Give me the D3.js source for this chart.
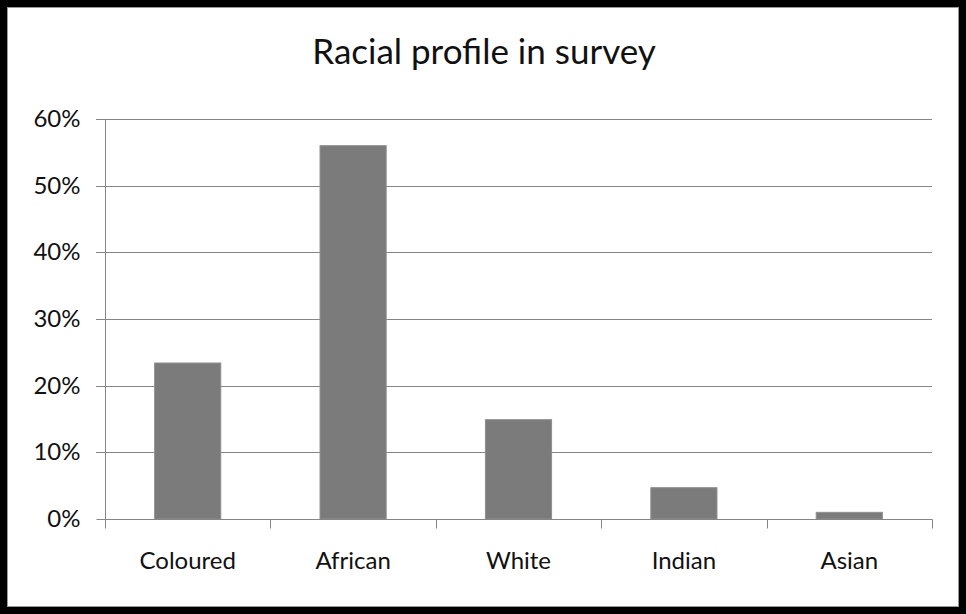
<!DOCTYPE html>
<html>
<head>
<meta charset="utf-8">
<script src="https://cdn.jsdelivr.net/npm/d3@7"></script>
<style>
  html, body { margin: 0; padding: 0; background: #000; }
  svg { display: block; }
  text { font-family: Lato, "Open Sans", sans-serif; fill: #111; }
</style>
</head>
<body>
<svg id="chart" width="966" height="614"></svg>
<script>
const categories = ["Coloured", "African", "White", "Indian", "Asian"];
const values = [0.234, 0.56, 0.149, 0.047, 0.010];
const yTicks = [0, 0.1, 0.2, 0.3, 0.4, 0.5, 0.6];
const title = "Racial profile in survey";

const W = 966, H = 614;
const svg = d3.select("#chart");

// outer frame
svg.append("rect").attr("x", 0).attr("y", 0).attr("width", W).attr("height", H).attr("fill", "#000");
svg.append("rect").attr("x", 7.5).attr("y", 7.5).attr("width", 951).attr("height", 599)
  .attr("fill", "#fff").attr("stroke", "#9a9a9a").attr("stroke-width", 1);

const plot = { left: 105, right: 932, top: 119, bottom: 519 };

const x = d3.scaleBand().domain(categories).range([plot.left, plot.right])
  .paddingInner(0.6).paddingOuter(0.3);
const xTickScale = d3.scaleLinear().domain([0, categories.length]).range([plot.left, plot.right]);
const y = d3.scaleLinear().domain([0, 0.6]).range([plot.bottom, plot.top]);

const gridColor = "#868686";

// gridlines
svg.append("g").selectAll("line").data(yTicks.filter(d => d > 0)).join("line")
  .attr("x1", plot.left - 9).attr("x2", plot.right)
  .attr("y1", d => Math.round(y(d)) + 0.5).attr("y2", d => Math.round(y(d)) + 0.5)
  .attr("stroke", gridColor).attr("stroke-width", 1);

// y axis
const yAxis = d3.axisLeft(y).tickValues(yTicks).tickFormat(d3.format(".0%")).tickSize(9).tickPadding(16);
const gy = svg.append("g").attr("transform", `translate(${plot.left + 0.5},0)`).call(yAxis);
gy.select(".domain").attr("stroke", gridColor).attr("d", `M0,${plot.top}V${plot.bottom + 0.5}`);
gy.selectAll(".tick line").attr("stroke", gridColor);
gy.selectAll(".tick").attr("transform", d => `translate(0,${Math.round(y(d)) + 0.5})`);
gy.selectAll(".tick text").style("font-size", "24px").style("font-family", "Lato, sans-serif").attr("fill", "#111");

// bars
svg.append("g").selectAll("rect").data(categories).join("rect")
  .attr("x", d => x(d))
  .attr("y", (d, i) => y(values[i]))
  .attr("width", x.bandwidth())
  .attr("height", (d, i) => y(0) - y(values[i]))
  .attr("fill", "#7b7b7b")
  .attr("stroke", "#8f8f8f").attr("stroke-width", 1);

// x axis
const gx = svg.append("g").attr("transform", `translate(0,${plot.bottom + 0.5})`);
gx.append("line").attr("x1", plot.left).attr("x2", plot.right + 0.5).attr("stroke", gridColor);
gx.selectAll("line.tk").data(d3.range(categories.length + 1)).join("line").attr("class", "tk")
  .attr("x1", d => Math.round(xTickScale(d)) + 0.5).attr("x2", d => Math.round(xTickScale(d)) + 0.5)
  .attr("y1", 0).attr("y2", 9).attr("stroke", gridColor);
gx.selectAll("text").data(categories).join("text")
  .attr("x", d => x(d) + x.bandwidth() / 2)
  .attr("y", 49)
  .attr("text-anchor", "middle")
  .style("font-size", "24px")
  .text(d => d);

// title
svg.append("text").attr("x", 484).attr("y", 64).attr("text-anchor", "middle")
  .style("font-size", "35px").text(title);
</script>
</body>
</html>
